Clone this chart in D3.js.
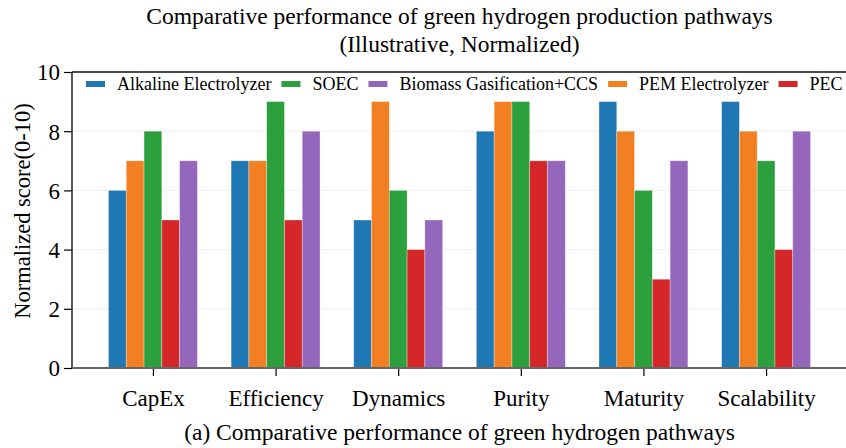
<!DOCTYPE html>
<html><head><meta charset="utf-8">
<script src="https://cdn.jsdelivr.net/npm/d3@7"></script>
<style>body{margin:0;background:#fff}svg{display:block}text{font-family:"Liberation Serif","Times New Roman",serif;fill:#000}</style>
</head><body><svg id="c" width="846" height="448"></svg>
<script>
const categories = ["CapEx","Efficiency","Dynamics","Purity","Maturity","Scalability"];
const seriesNames = ["Alkaline Electrolyzer","PEM Electrolyzer","SOEC","PEC","Biomass Gasification+CCS"];
const alkaline = [6,7,5,8,9,9];
const pem      = [7,7,9,9,8,8];
const soec     = [8,9,6,9,6,7];
const pec      = [5,5,4,7,3,4];
const biomass  = [7,8,5,7,7,8];
const yTicks = [0,2,4,6,8,10];
const legendOrder = ["Alkaline Electrolyzer","SOEC","Biomass Gasification+CCS","PEM Electrolyzer","PEC"];
const colors = {"Alkaline Electrolyzer":"#1f77b4","PEM Electrolyzer":"#f28022","SOEC":"#2ca03c","PEC":"#d62728","Biomass Gasification+CCS":"#9467bd"};
const seriesValues = [alkaline,pem,soec,pec,biomass];

const svg = d3.select("#c");
const L=72,R=847,T=72,B=368;
const x = d3.scaleLinear().domain([-0.66,5.66]).range([L,R]);
const y = d3.scaleLinear().domain([0,10]).range([B,T]);
const bw = 0.145;

// grid
svg.append("g").selectAll("line").data(yTicks.filter(d=>d>0&&d<10)).join("line")
 .attr("x1",L).attr("x2",R).attr("y1",d=>y(d)).attr("y2",d=>y(d))
 .attr("stroke","#ebebeb").attr("stroke-width",0.8);

// bars
seriesNames.forEach((name,si)=>{
  svg.append("g").selectAll("rect").data(seriesValues[si]).join("rect")
   .attr("x",(d,i)=>x(i+(si-2)*bw-bw/2))
   .attr("width",x(bw)-x(0))
   .attr("y",d=>y(d)).attr("height",d=>y(0)-y(d))
   .attr("fill",colors[name]).attr("stroke","rgba(255,255,255,0.45)").attr("stroke-width",0.7);
});

// axes
const yAxis = d3.axisLeft(y).tickValues(yTicks).tickSize(8).tickPadding(4);
const gy = svg.append("g").attr("transform",`translate(${L},0)`).call(yAxis);
gy.select(".domain").remove();
gy.selectAll("line").attr("stroke","#000").attr("stroke-width",1.2);
gy.selectAll("text").attr("font-size",23).style("font-family",'"Liberation Serif",serif').attr("dy","0.34em");

const xAxis = d3.axisBottom(x).tickValues(d3.range(categories.length)).tickFormat(i=>categories[i]).tickSize(8).tickPadding(14);
const gx = svg.append("g").attr("transform",`translate(0,${B})`).call(xAxis);
gx.select(".domain").remove();
gx.selectAll("line").attr("stroke","#000").attr("stroke-width",1.2);
gx.selectAll("text").attr("font-size",23).style("font-family",'"Liberation Serif",serif');

// spines
svg.append("line").attr("x1",L).attr("x2",R).attr("y1",T).attr("y2",T).attr("stroke","#111").attr("stroke-width",1.4);
svg.append("line").attr("x1",L).attr("x2",L).attr("y1",T).attr("y2",B).attr("stroke","#111").attr("stroke-width",1.4);
svg.append("line").attr("x1",L).attr("x2",R).attr("y1",B).attr("y2",B).attr("stroke","#666").attr("stroke-width",1.8);
svg.append("line").attr("x1",R).attr("x2",R).attr("y1",T).attr("y2",B).attr("stroke","#111").attr("stroke-width",1.4);

// legend
let lx = 86;
const lg = svg.append("g");
legendOrder.forEach(name=>{
  lg.append("rect").attr("x",lx).attr("y",81).attr("width",19).attr("height",6).attr("fill",colors[name]);
  const t = lg.append("text").attr("x",lx+31).attr("y",90).attr("font-size",18).text(name);
  lx = lx+31+t.node().getComputedTextLength()+10;
});

// titles
const cx = (L+R)/2;
svg.append("text").attr("x",cx).attr("y",24).attr("text-anchor","middle").attr("font-size",23.5).text("Comparative performance of green hydrogen production pathways");
svg.append("text").attr("x",cx).attr("y",52).attr("text-anchor","middle").attr("font-size",23.5).text("(Illustrative, Normalized)");
svg.append("text").attr("transform",`translate(30,211) rotate(-90)`).attr("text-anchor","middle").attr("font-size",22.5).text("Normalized score(0-10)");
svg.append("text").attr("x",cx).attr("y",440).attr("text-anchor","middle").attr("font-size",23.5).text("(a) Comparative performance of green hydrogen pathways");
</script></body></html>
